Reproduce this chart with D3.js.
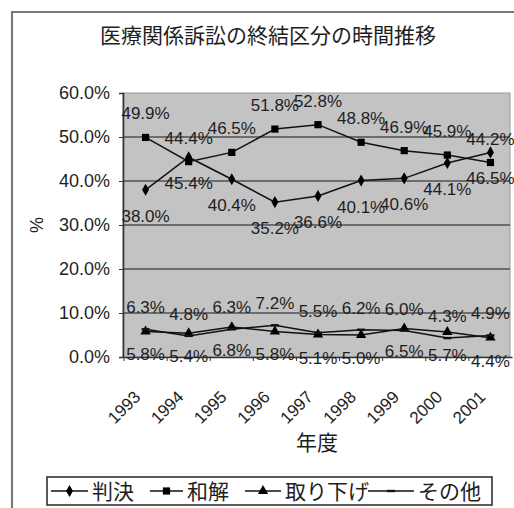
<!DOCTYPE html>
<html>
<head>
<meta charset="utf-8">
<script src="https://cdn.jsdelivr.net/npm/d3@7"></script>
<style>
  html, body { margin: 0; padding: 0; background: #ffffff; }
  svg { display: block; }
  .num { font-family: "Liberation Sans", Arial, sans-serif; fill: #1e1e1e; }
  .jp { font-family: "Noto Sans CJK JP", sans-serif; fill: #1e1e1e; }
</style>
</head>
<body>
<svg id="chart" width="514" height="508"></svg>
<script>
// 医療関係訴訟の終結区分（割合, %）
const years     = ["1993", "1994", "1995", "1996", "1997", "1998", "1999", "2000", "2001"];
const hanketsu  = [38.0, 45.4, 40.4, 35.2, 36.6, 40.1, 40.6, 44.1, 46.5]; // 判決
const wakai     = [49.9, 44.4, 46.5, 51.8, 52.8, 48.8, 46.9, 45.9, 44.2]; // 和解
const torisage  = [5.8, 5.4, 6.8, 5.8, 5.1, 5.0, 6.5, 5.7, 4.4];         // 取り下げ
const sonota    = [6.3, 4.8, 6.3, 7.2, 5.5, 6.2, 6.0, 4.3, 4.9];         // その他
const yTicks    = [0, 10, 20, 30, 40, 50, 60];
const seriesNames = ["判決", "和解", "取り下げ", "その他"];
const titleText = "医療関係訴訟の終結区分の時間推移";
const xTitle = "年度";
const yTitle = "%";

const svg = d3.select("#chart");

// outer chart frame
svg.append("path")
  .attr("d", "M12,510 L12,12 L516,12")
  .attr("fill", "none").attr("stroke", "#7a7a7a").attr("stroke-width", 2.2);

const plot = { left: 123, right: 510, top: 93, bottom: 357 };

const x = d3.scaleBand().domain(years).range([plot.left + 1, plot.right + 2]);
const y = d3.scaleLinear().domain([0, 60]).range([plot.bottom, plot.top]);
const cx = d => x(d) + x.bandwidth() / 2;

// plot area
svg.append("rect")
  .attr("x", plot.left).attr("y", plot.top)
  .attr("width", plot.right - plot.left).attr("height", plot.bottom - plot.top)
  .attr("fill", "#c3c3c3").attr("stroke", "#9a9a9a").attr("stroke-width", 1);

// horizontal gridlines
svg.append("g").selectAll("line")
  .data(yTicks.filter(t => t > 0 && t < 60))
  .join("line")
  .attr("x1", plot.left).attr("x2", plot.right)
  .attr("y1", d => y(d)).attr("y2", d => y(d))
  .attr("stroke", "#505050").attr("stroke-width", 1.6);

// y axis
const yAxis = d3.axisLeft(y).tickValues(yTicks).tickSize(4).tickPadding(9)
  .tickFormat(d => d.toFixed(1) + "%");
const gy = svg.append("g").attr("transform", `translate(${plot.left},0)`).call(yAxis);
gy.select(".domain").attr("stroke", "#333").attr("stroke-width", 1.6);
gy.selectAll(".tick line").attr("stroke", "#333");
gy.selectAll(".tick text").attr("class", "num").attr("font-size", 18).attr("fill", "#3a3a3a");

// x axis
const xAxis = d3.axisBottom(x).tickSize(0).tickFormat("");
const gx = svg.append("g").attr("transform", `translate(0,${plot.bottom})`).call(xAxis);
gx.select(".domain").attr("stroke", "#333").attr("stroke-width", 1.6);
svg.append("g").selectAll("line")
  .data(years)
  .join("line")
  .attr("x1", d => x(d)).attr("x2", d => x(d))
  .attr("y1", plot.bottom).attr("y2", plot.bottom + 4)
  .attr("stroke", "#333");

svg.append("g").selectAll("text")
  .data(years)
  .join("text")
  .attr("class", "num")
  .attr("font-size", 17)
  .attr("text-anchor", "end")
  .attr("transform", d => `translate(${cx(d) - 4},${plot.bottom + 41}) rotate(-45)`)
  .text(d => d);

// titles
svg.append("text").attr("class", "jp")
  .attr("x", 268).attr("y", 43).attr("text-anchor", "middle")
  .attr("font-size", 21).attr("fill", "#333").text(titleText);
svg.append("text").attr("class", "jp")
  .attr("x", 317).attr("y", 450).attr("text-anchor", "middle")
  .attr("font-size", 21).attr("fill", "#333").text(xTitle);
svg.append("text").attr("class", "num")
  .attr("transform", `translate(43,${y(30)}) rotate(-90)`)
  .attr("text-anchor", "middle").attr("font-size", 18).attr("fill", "#333").text(yTitle);

// marker shapes
const markers = {
  diamond: d3.symbol().type(d3.symbolDiamond).size(42),
  square: d3.symbol().type(d3.symbolSquare).size(52),
  triangle: d3.symbol().type(d3.symbolTriangle).size(46)
};

const series = [
  { name: seriesNames[0], values: hanketsu, marker: "diamond", labelDy: 32 },
  { name: seriesNames[1], values: wakai, marker: "square", labelDy: -18 },
  { name: seriesNames[2], values: torisage, marker: "triangle", labelDy: 29 },
  { name: seriesNames[3], values: sonota, marker: "dash", labelDy: -16 }
];

const line = d3.line().x(d => cx(d.year)).y(d => y(d.value));

series.forEach(s => {
  const pts = years.map((yr, i) => ({ year: yr, value: s.values[i] }));
  svg.append("path")
    .datum(pts)
    .attr("d", line)
    .attr("fill", "none").attr("stroke", "#111").attr("stroke-width", 1.5);

  const g = svg.append("g");
  if (s.marker === "dash") {
    g.selectAll("rect").data(pts).join("rect")
      .attr("x", d => cx(d.year) - 4).attr("y", d => y(d.value) - 1.2)
      .attr("width", 8).attr("height", 2.4).attr("fill", "#111");
  } else {
    g.selectAll("path").data(pts).join("path")
      .attr("d", markers[s.marker])
      .attr("transform", d => `translate(${cx(d.year)},${y(d.value)})`)
      .attr("fill", "#000");
  }
  s.points = pts;
});

// data labels
series.forEach(s => {
  svg.append("g").selectAll("text")
    .data(s.points)
    .join("text")
    .attr("class", "num")
    .attr("font-size", 17)
    .attr("text-anchor", "middle")
    .attr("x", d => cx(d.year))
    .attr("y", d => y(d.value) + s.labelDy)
    .attr("fill", "#262626")
    .text(d => d.value.toFixed(1) + "%");
});

// legend
const legend = svg.append("g");
legend.append("rect")
  .attr("x", 47).attr("y", 477).attr("width", 445).attr("height", 28)
  .attr("fill", "#fff").attr("stroke", "#333").attr("stroke-width", 1.6);

const legendItems = [
  { name: seriesNames[0], marker: "diamond", x1: 51, x2: 88, tx: 92 },
  { name: seriesNames[1], marker: "square", x1: 150, x2: 183, tx: 187 },
  { name: seriesNames[2], marker: "triangle", x1: 245, x2: 281, tx: 285 },
  { name: seriesNames[3], marker: "dash", x1: 368, x2: 414, tx: 418 }
];
const ly = 491;
legendItems.forEach(it => {
  legend.append("line")
    .attr("x1", it.x1).attr("x2", it.x2).attr("y1", ly).attr("y2", ly)
    .attr("stroke", "#111").attr("stroke-width", 1.4);
  const mx = (it.x1 + it.x2) / 2;
  if (it.marker === "dash") {
    legend.append("rect").attr("x", mx - 4).attr("y", ly - 1.2)
      .attr("width", 8).attr("height", 2.4).attr("fill", "#111");
  } else {
    legend.append("path").attr("d", markers[it.marker])
      .attr("transform", `translate(${mx},${ly})`).attr("fill", "#000");
  }
  legend.append("text").attr("class", "jp")
    .attr("x", it.tx).attr("y", ly + 7.5)
    .attr("font-size", 21).attr("fill", "#333").text(it.name);
});
</script>
</body>
</html>
